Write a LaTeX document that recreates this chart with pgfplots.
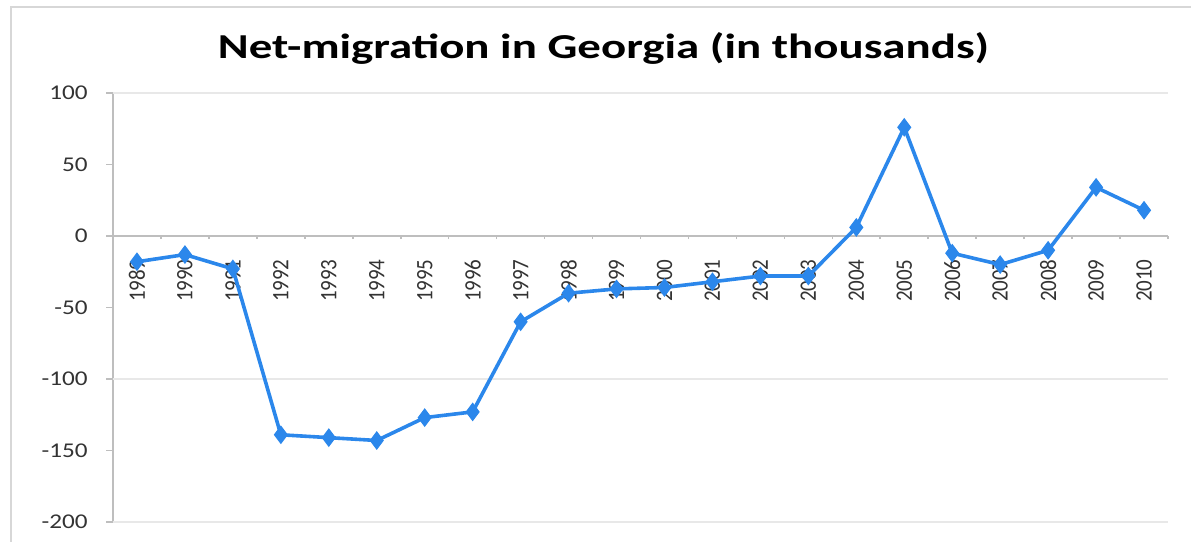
\documentclass[border=0pt]{standalone}
\usepackage{graphicx}
\usepackage{fontspec}
\setmainfont{Carlito}
\usepackage{pgfplots}
\pgfplotsset{compat=1.18}
\usetikzlibrary{calc}
\definecolor{lineblue}{RGB}{43,135,235}
\definecolor{axgray}{RGB}{190,190,190}
\definecolor{gridgray}{RGB}{232,232,232}
\definecolor{bordergray}{RGB}{215,215,215}
\newcommand\ys[1]{\scalebox{1.2}[1]{#1}}
\newcommand\xs[1]{\scalebox{1}[1.12]{#1}}
\begin{document}
\begin{tikzpicture}
\begin{axis}[
  name=ax,
  scale only axis,
  width=527.5pt, height=214.5pt,
  xmin=-0.5, xmax=21.5,
  ymin=-200, ymax=100,
  axis x line*=middle,
  axis y line*=left,
  axis line style={axgray, line width=0.8pt},
  xtick={0,...,21},
  xticklabels={\xs{1989},\xs{1990},\xs{1991},\xs{1992},\xs{1993},\xs{1994},\xs{1995},\xs{1996},\xs{1997},\xs{1998},\xs{1999},\xs{2000},\xs{2001},\xs{2002},\xs{2003},\xs{2004},\xs{2005},\xs{2006},\xs{2007},\xs{2008},\xs{2009},\xs{2010}},
  major x tick style={draw=none},
  minor xtick={-0.5,0.5,...,21.5},
  minor x tick style={axgray, line width=0.8pt},
  minor tick length=1.5pt,
  major tick length=3.5pt,
  tick align=outside,
  xticklabel style={rotate=90, anchor=east, font=\fontsize{10.5}{12}\selectfont, text=black!80, inner sep=0pt},
  xticklabel shift=8pt,
  ytick={-200,-150,-100,-50,0,50,100},
  yticklabels={\ys{-200},\ys{-150},\ys{-100},\ys{-50},\ys{0},\ys{50},\ys{100}},
  ytick style={axgray, line width=0.8pt},
  yticklabel style={font=\fontsize{10.5}{12}\selectfont, text=black!80, anchor=east, inner sep=0pt, xshift=-9pt},
  extra y ticks={-200,-100,100},
  extra y tick labels={},
  extra y tick style={grid=major, major grid style={gridgray, line width=0.8pt}},
  clip=false,
]
\addplot[lineblue, line width=1.8pt, mark=diamond*, mark size=4.3pt, mark options={fill=lineblue, draw=lineblue, line width=0.5pt}] coordinates {
 (0,-18) (1,-13) (2,-23) (3,-139) (4,-141) (5,-143) (6,-127) (7,-123)
 (8,-60) (9,-40) (10,-37) (11,-36) (12,-32) (13,-28) (14,-28) (15,6)
 (16,76) (17,-12) (18,-20) (19,-10) (20,34) (21,18)
};
\end{axis}
\draw[bordergray, line width=0.9pt] ($(ax.south west)+(-51pt,-12pt)$) |- ($(ax.north east)+(12pt,43pt)$);
\node[anchor=base] at ($(ax.north west)+(245.25pt,17pt)$) {\fontsize{17.5}{20}\selectfont\bfseries\scalebox{1.34}[1]{Net-migration in Georgia (in thousands)}};
\pgfresetboundingbox
\path ($(ax.south west)+(-56.5pt,-9.5pt)$) rectangle ($(ax.north east)+(11.5pt,46.5pt)$);
\end{tikzpicture}
\end{document}
